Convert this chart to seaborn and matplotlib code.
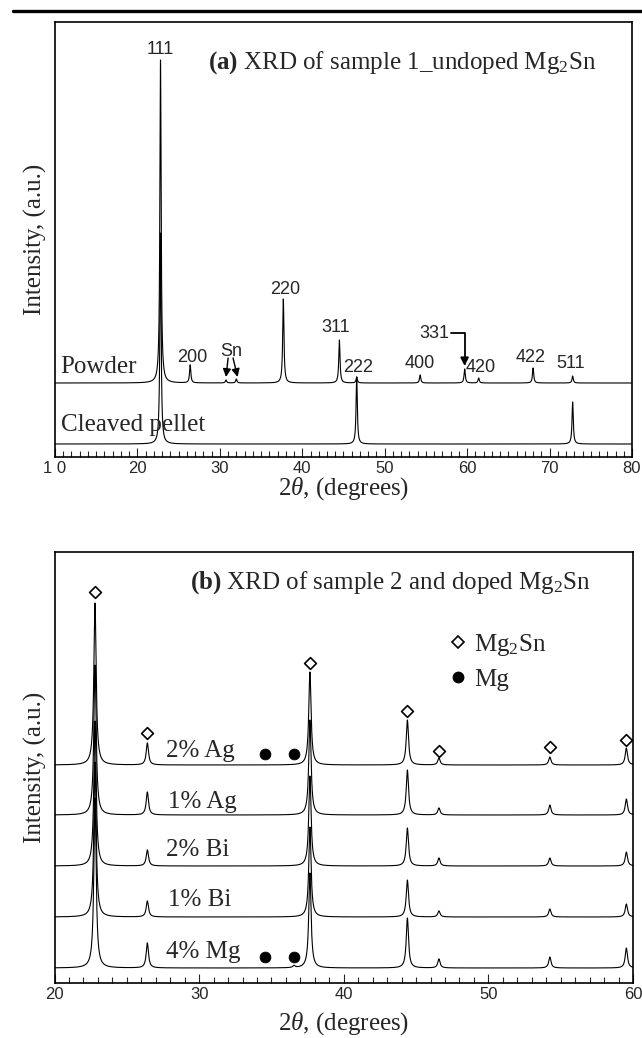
import numpy as np
import pandas as pd
import matplotlib
matplotlib.use("Agg")
import matplotlib.pyplot as plt
import seaborn as sns
from matplotlib.lines import Line2D
from matplotlib.ticker import MultipleLocator, FixedLocator, FixedFormatter

# ---------------- data ----------------
# panel (a): peak positions (2theta, deg) and heights (a.u.)
a_powder_pos = [22.8, 26.4, 30.75, 32.0, 37.7, 44.5, 46.6, 54.3, 59.7, 61.4, 68.0, 72.8]
a_powder_int = [323, 18, 3, 4, 84, 43, 6, 8, 14, 5, 15, 7]
a_pellet_pos = [22.8, 46.6, 72.8]
a_pellet_int = [211, 67, 42]
a_names = ["Powder", "Cleaved pellet"]
a_offsets = [74, 13]
a_ticks = [10, 20, 30, 40, 50, 60, 70, 80]
a_ticklabels = ["1 0", "20", "30", "40", "50", "60", "70", "80"]
a_hkl = ["111", "200", "220", "311", "222", "400", "420", "422", "511"]
a_hkl_x = [22.74, 26.62, 37.9, 44.09, 46.83, 54.23, 61.68, 67.75, 72.6]
a_hkl_y = [407, 100, 168, 129, 90, 94, 89, 100, 94]

# panel (b)
b_names = ["2% Ag", "1% Ag", "2% Bi", "1% Bi", "4% Mg"]
b_offsets = [218, 168, 117, 66, 15]
b_pos = [22.8, 26.42, 36.56, 37.66, 44.4, 46.58, 54.25, 59.54]
b_int = {
    "2% Ag": [162, 22, 0, 93, 45, 7, 8, 17],
    "1% Ag": [150, 23, 0, 95, 45, 7, 10, 16],
    "2% Bi": [145, 16, 0, 90, 38, 8, 8, 14],
    "1% Bi": [155, 16, 0, 90, 37, 6, 8, 13],
    "4% Mg": [170, 25, 2, 95, 50, 9, 11, 20],
}
b_ticks = [20, 30, 40, 50, 60]
mg2sn_mark_x = [22.8, 26.42, 37.66, 44.4, 46.58, 54.25, 59.54]
mg2sn_mark_y = [391, 250, 320, 272, 232, 236, 243]
mg_mark_x = [34.55, 36.56, 34.55, 36.56]
mg_mark_y = [229, 229, 26, 26]

# ---------------- helpers ----------------
def pattern(x, pos, heights, hw):
    y = np.zeros_like(x)
    for p, h in zip(pos, heights):
        y += h / (1.0 + ((x - p) / hw) ** 2)
    return y

sns.set_style("ticks")
plt.rcParams["font.family"] = ["Liberation Serif", "DejaVu Serif"]
plt.rcParams["mathtext.fontset"] = "custom"
plt.rcParams["mathtext.rm"] = "Liberation Serif"
plt.rcParams["mathtext.it"] = "Liberation Serif:italic"
plt.rcParams["mathtext.bf"] = "Liberation Serif:bold"

SERIF = 18
SANS = dict(family="Liberation Sans", size=13)

fig = plt.figure(figsize=(6.42, 10.38), dpi=100)
ax1 = fig.add_axes([55/642, 1-457/1038, 577/642, 435/1038])
ax2 = fig.add_axes([54.5/642, 1-983/1038, 578.5/642, 431/1038])

# header rule
fig.add_artist(Line2D([13/642, 1.0], [1-11/1038, 1-11/1038], color="black", lw=2.4))

# ---- panel (a) ----
xa = np.arange(10, 80.001, 0.01)
rows = []
for name, off, pos, hts in zip(a_names, a_offsets,
                               [a_powder_pos, a_pellet_pos],
                               [a_powder_int, a_pellet_int]):
    y = pattern(xa, pos, hts, 0.09) + off
    rows.append(pd.DataFrame({"tt": xa, "I": y, "trace": name}))
dfa = pd.concat(rows, ignore_index=True)
sns.lineplot(data=dfa, x="tt", y="I", units="trace", estimator=None,
             color="black", lw=0.8, ax=ax1, legend=False)

ax1.set_xlim(10, 80)
ax1.set_ylim(0, 435)
for t, x, y in zip(a_hkl, a_hkl_x, a_hkl_y):
    ax1.text(x, y, t, ha="center", va="center", **SANS)
ax1.text(31.35, 106, "Sn", ha="center", va="center", **SANS)
arr = dict(arrowstyle="-|>", color="black", lw=1.0, mutation_scale=12, shrinkA=0, shrinkB=0)
ax1.annotate("", xy=(30.75, 80), xytext=(31.0, 99), arrowprops=arr)
ax1.annotate("", xy=(32.15, 80), xytext=(31.6, 99), arrowprops=arr)
ax1.text(55.98, 124, "331", ha="center", va="center", **SANS)
ax1.annotate("", xy=(59.69, 91), xytext=(58.0, 124),
             arrowprops=dict(arrowstyle="-|>", color="black", lw=1.3, mutation_scale=12,
                             shrinkA=0, shrinkB=0,
                             connectionstyle="angle,angleA=0,angleB=90,rad=0"))
ax1.text(10.68, 90, "Powder", ha="left", va="center", fontsize=SERIF)
ax1.text(10.68, 32, "Cleaved pellet", ha="left", va="center", fontsize=SERIF)
ax1.text(28.6, 394, r"$\mathbf{(a)}$ XRD of sample 1_undoped Mg$_2$Sn",
         ha="left", va="center", fontsize=SERIF)

ax1.xaxis.set_major_locator(FixedLocator(a_ticks))
ax1.xaxis.set_major_formatter(FixedFormatter(a_ticklabels))
ax1.xaxis.set_minor_locator(MultipleLocator(1))

# ---- panel (b) ----
xb = np.arange(20, 60.001, 0.01)
rows = []
for name, off in zip(b_names, b_offsets):
    y = pattern(xb, b_pos, b_int[name], 0.095) + off
    rows.append(pd.DataFrame({"tt": xb, "I": y, "trace": name}))
dfb = pd.concat(rows, ignore_index=True)
sns.lineplot(data=dfb, x="tt", y="I", units="trace", estimator=None,
             color="black", lw=0.8, ax=ax2, legend=False)
sns.scatterplot(x=mg2sn_mark_x, y=mg2sn_mark_y, marker="D", s=36, facecolor="white",
                edgecolor="black", linewidth=1.2, ax=ax2, zorder=5)
sns.scatterplot(x=mg_mark_x, y=mg_mark_y, marker="o", s=60, color="black",
                edgecolor="black", ax=ax2, zorder=5)
ax2.set_xlim(20, 60)
ax2.set_ylim(0, 431)
lab_x = [27.71, 27.85, 27.71, 27.85, 27.71]
lab_y = [232, 181, 133, 83, 31]
for name, x, y in zip(b_names, lab_x, lab_y):
    ax2.text(x, y, name, ha="left", va="center", fontsize=SERIF)
ax2.text(29.37, 400, r"$\mathbf{(b)}$ XRD of sample 2 and doped Mg$_2$Sn",
         ha="left", va="center", fontsize=SERIF)
handles = [Line2D([], [], ls="none", marker="D", ms=6.0, mfc="white", mec="black", mew=1.2),
           Line2D([], [], ls="none", marker="o", ms=7.5, mfc="black", mec="black")]
ax2.legend(handles, [r"Mg$_2$Sn", "Mg"], loc="upper left", bbox_to_anchor=(0.676, 0.815),
           frameon=False, fontsize=SERIF, handlelength=1.0, handletextpad=0.15,
           borderpad=0, borderaxespad=0, labelspacing=0.42)
ax2.xaxis.set_major_locator(FixedLocator(b_ticks))
ax2.xaxis.set_minor_locator(MultipleLocator(1))

for ax in (ax1, ax2):
    for s in ax.spines.values():
        s.set_linewidth(1.2)
        s.set_color("black")
    ax.tick_params(axis="x", which="major", direction="in", length=6.5, width=0.8,
                   pad=3, labelsize=12, labelfontfamily="Liberation Sans")
    ax.tick_params(axis="x", which="minor", direction="in", length=4, width=0.8)
    ax.tick_params(axis="y", which="both", left=False, labelleft=False)
    ax.set_yticks([])
    ax.set_xlabel(r"2$\mathit{\theta}$, (degrees)", fontsize=SERIF)
    ax.set_ylabel("Intensity, (a.u.)", fontsize=SERIF)
    ax.yaxis.set_label_coords(-0.013, 0.5)

ax1.xaxis.set_label_coords(0.5, -0.042)
ax2.xaxis.set_label_coords(0.5, -0.064)

fig.savefig("out.png", dpi=100)
